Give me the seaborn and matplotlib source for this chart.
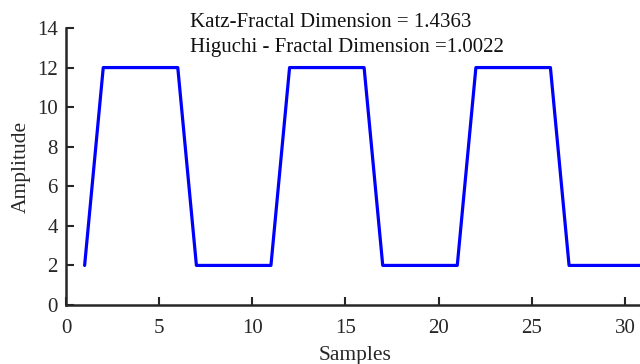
import matplotlib
matplotlib.use("Agg")
import matplotlib.pyplot as plt
import seaborn as sns
import pandas as pd

# Square-wave test signal, one value per sample
samples = list(range(1, 32))
amplitude = [2, 12, 12, 12, 12, 12, 2, 2, 2, 2, 2,
             12, 12, 12, 12, 12, 2, 2, 2, 2, 2,
             12, 12, 12, 12, 12, 2, 2, 2, 2, 2]
katz_fd = "1.4363"
higuchi_fd = "1.0022"

df = pd.DataFrame({"Samples": samples, "Amplitude": amplitude})

sns.set_theme(style="ticks")
plt.rcParams["font.family"] = ["Liberation Serif", "DejaVu Serif"]
plt.rcParams["xtick.direction"] = "in"
plt.rcParams["ytick.direction"] = "in"

fig = plt.figure(figsize=(6.4, 3.64), dpi=100)
ax = fig.add_axes([0.1031, 0.1621, 0.9025, 0.761])

sns.lineplot(data=df, x="Samples", y="Amplitude", color="#0000ff",
             linewidth=2.3, ax=ax)

ax.set_xlim(0, 31)
ax.set_ylim(0, 14)
ax.set_xticks([0, 5, 10, 15, 20, 25, 30])
ax.set_yticks([0, 2, 4, 6, 8, 10, 12, 14])
ax.tick_params(axis="both", labelsize=15, length=6, width=1.5,
               colors="#262626")
ax.tick_params(axis="x", pad=10)
ax.tick_params(axis="y", pad=6)
for s in ("top", "right"):
    ax.spines[s].set_visible(False)
for s in ("left", "bottom"):
    ax.spines[s].set_linewidth(1.8)
    ax.spines[s].set_color("#262626")

ax.set_xlabel("Samples", fontsize=15.5, color="#262626", labelpad=6)
ax.set_ylabel("Amplitude", fontsize=15.5, color="#262626", labelpad=4)

ax.text(6.66, 14.05, f"Katz-Fractal Dimension = {katz_fd}", fontsize=15,
        color="#111111", va="baseline", clip_on=False)
ax.text(6.66, 12.78, f"Higuchi - Fractal Dimension ={higuchi_fd}", fontsize=15,
        color="#111111", va="baseline", clip_on=False)

fig.savefig("out.png", dpi=100)
